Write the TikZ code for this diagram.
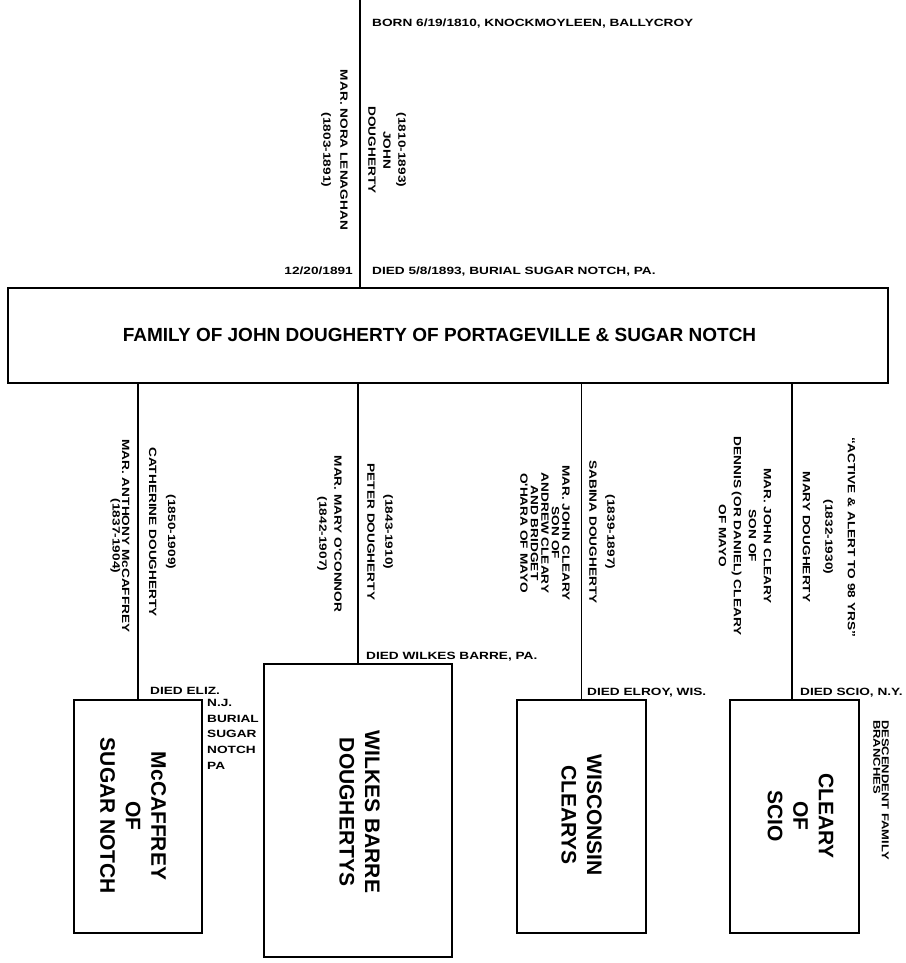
\documentclass[tikz,border=0pt]{standalone}
\usepackage{fontspec}
\setmainfont{Liberation Sans}
\newfontfamily\notefont{Liberation Sans}[FakeStretch=1.3]
\usepackage{tikz}
\tikzstyle{familybox} = [rectangle, draw, line width=1.4pt, inner sep=0pt]
\tikzstyle{branchbox} = [rectangle, draw, line width=1.4pt, inner sep=0pt, minimum width=129, minimum height=233]
\tikzstyle{branchname} = [rotate=-90, align=center, inner sep=0pt, font=\bfseries\fontsize{21}{25.5}\selectfont]
\tikzstyle{hnote} = [anchor=base west, inner sep=0pt, font=\notefont\bfseries\fontsize{10.5}{15.7}\selectfont]
\tikzstyle{descent} = [line width=1.4pt]
\tikzset{vnote/.style={rotate=-90, align=center, inner sep=0pt, font=\notefont\bfseries\fontsize{10.5}{#1}\selectfont}}

\begin{document}
\begin{tikzpicture}[x=1pt, y=-1pt]
        \useasboundingbox (0,0) rectangle (905,963);
        % head of the family
        \coordinate (root) at (360,0);
        \node (nora) [vnote=17] at (334.5,150) {MAR. NORA LENAGHAN\\(1803-1891)};
        \node (john) [vnote=15] at (387,150) {(1810-1893)\\JOHN\\DOUGHERTY};
        \node (born) [hnote] at (372,27) {BORN 6/19/1810, KNOCKMOYLEEN, BALLYCROY};
        \node (nora-died) [hnote, anchor=base east] at (353,274) {12/20/1891};
        \node (john-died) [hnote] at (372,274) {DIED 5/8/1893, BURIAL SUGAR NOTCH, PA.};
        \node (family) [familybox, minimum width=880, minimum height=95] at (448,335.5) {};
        \node (title) [inner sep=0pt, font=\bfseries\fontsize{19}{23}\selectfont] at (439.5,335) {FAMILY OF JOHN DOUGHERTY OF PORTAGEVILLE \& SUGAR NOTCH};
        % children
        \node (anthony) [vnote=9.5] at (120,536) {MAR. ANTHONY McCAFFREY\\(1837-1904)};
        \node (catherine) [vnote=19] at (162.5,532) {(1850-1909)\\CATHERINE DOUGHERTY};
        \node (mary-oconnor) [vnote=15] at (329.5,534) {MAR. MARY O'CONNOR\\(1842-1907)};
        \node (peter) [vnote=18] at (380,532) {(1843-1910)\\PETER DOUGHERTY};
        \node (john-cleary-1) [vnote=10.5] at (545,533) {MAR. JOHN CLEARY\\SON OF\\ANDREW CLEARY\\AND BRIDGET\\O'HARA OF MAYO};
        \node (sabina) [vnote=18] at (602,532) {(1839-1897)\\SABINA DOUGHERTY};
        \node (john-cleary-2) [vnote=15] at (745,536) {MAR. JOHN CLEARY\\SON OF\\DENNIS (OR DANIEL) CLEARY\\OF MAYO};
        \node (mary) [vnote=22.5] at (829,537) {“ACTIVE \& ALERT TO 98 YRS”\\(1832-1930)\\MARY DOUGHERTY};
        % deaths
        \node (catherine-died) [hnote] at (150,694) {DIED ELIZ.};
        \node (catherine-burial) [hnote, anchor=north west, align=left] at (207,699) {N.J.\\BURIAL\\SUGAR\\NOTCH\\PA};
        \node (peter-died) [hnote] at (366,659) {DIED WILKES BARRE, PA.};
        \node (sabina-died) [hnote] at (587,695) {DIED ELROY, WIS.};
        \node (mary-died) [hnote] at (800,695) {DIED SCIO, N.Y.};
        % family branches
        \node (mccaffrey) [branchbox, minimum width=128] at (138,816.5) {};
        \node (wilkes) [branchbox, minimum width=188, minimum height=293] at (358,810.5) {};
        \node (wisconsin) [branchbox] at (581.5,816.5) {};
        \node (scio) [branchbox] at (794.5,816.5) {};
        \node (mccaffrey-name) [branchname] at (133,816) {McCAFFREY\\OF\\SUGAR NOTCH};
        \node (wilkes-name) [branchname] at (359.5,812) {WILKES BARRE\\DOUGHERTYS};
        \node (wisconsin-name) [branchname] at (581.5,815) {WISCONSIN\\CLEARYS};
        \node (scio-name) [branchname] at (800.5,816) {CLEARY\\OF\\SCIO};
        \node (branches) [vnote=8.5, anchor=north west, align=left, font=\notefont\bfseries\fontsize{10}{8.5}\selectfont] at (889,720) {DESCENDENT FAMILY\\BRANCHES};
        \draw [descent] (root) -- (root |- family.north);
        \draw [descent] (mccaffrey.north |- family.south) -- (mccaffrey.north);
        \draw [descent] (wilkes.north |- family.south) -- (wilkes.north);
        \draw [descent] (wisconsin.north |- family.south) -- (wisconsin.north);
        \draw [descent] ([xshift=-2.5]scio.north |- family.south) -- ([xshift=-2.5]scio.north);
    \end{tikzpicture}
\end{document}
